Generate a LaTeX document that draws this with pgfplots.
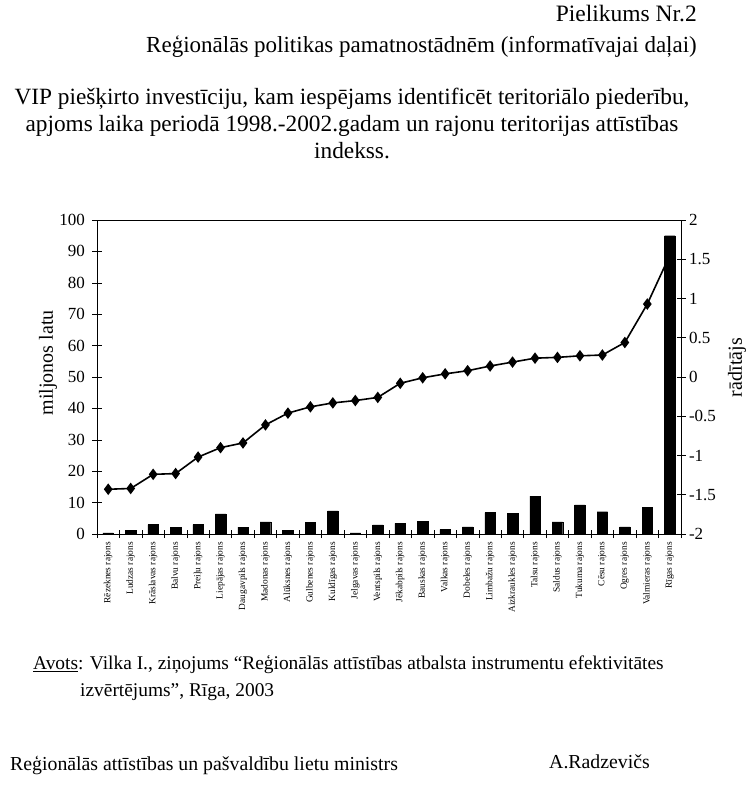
\documentclass[border=0pt]{standalone}
\usepackage{fontspec}
\setmainfont{Liberation Serif}
\usepackage{pgfplots}
\pgfplotsset{compat=1.18}
\begin{document}
\begin{tikzpicture}[x=1pt,y=1pt]
\path[use as bounding box] (0,0) rectangle (750,-793);
\node[anchor=mid east,inner sep=0pt,font=\fontsize{23.5}{26}\selectfont] at (697,-19) {Pielikums Nr.2};
\node[anchor=mid east,inner sep=0pt,font=\fontsize{23}{26}\selectfont] at (697,-50) {Reģionālās politikas pamatnostādnēm (informatīvajai daļai)};
\node[anchor=mid,inner sep=0pt,font=\fontsize{23.3}{26}\selectfont] at (352,-102) {VIP piešķirto investīciju, kam iespējams identificēt teritoriālo piederību,};
\node[anchor=mid,inner sep=0pt,font=\fontsize{23.3}{26}\selectfont] at (352,-129) {apjoms laika periodā 1998.-2002.gadam un rajonu teritorijas attīstības};
\node[anchor=mid,inner sep=0pt,font=\fontsize{23.3}{26}\selectfont] at (352,-156) {indekss.};
\node[anchor=mid west,inner sep=0pt,font=\fontsize{19.4}{22}\selectfont] at (33,-667) {\underline{Avots}: Vilka I., ziņojums “Reģionālās attīstības atbalsta instrumentu efektivitātes};
\node[anchor=mid west,inner sep=0pt,font=\fontsize{19.4}{22}\selectfont] at (80,-694) {izvērtējums”, Rīga, 2003};
\node[anchor=mid west,inner sep=0pt,font=\fontsize{19.8}{22}\selectfont] at (10,-768) {Reģionālās attīstības un pašvaldību lietu ministrs};
\node[anchor=mid west,inner sep=0pt,font=\fontsize{19.8}{22}\selectfont] at (549,-766) {A.Radzevičs};

% line (right axis)
\begin{axis}[
  at={(97pt,-534pt)}, anchor=south west, scale only axis,
  width=584pt, height=314pt,
  xmin=-0.5, xmax=25.5, ymin=-2, ymax=2,
  axis x line=none, axis y line*=right,
  ytick={-2,-1.5,...,2},
  tick align=center, major tick length=9pt,
  /pgf/number format/assume math mode=true,
  y tick label style={font=\fontsize{17}{19}\selectfont},
  yticklabel style={/pgf/number format/fixed},
  ylabel={rādītājs},
  ylabel style={font=\fontsize{20}{22}\selectfont, rotate=0, at={(axis description cs:1.096,0.53)}, anchor=center},
  axis line style={line width=0.8pt},
  every tick/.style={black, line width=0.6pt},
]
\addplot[black, line width=1.6pt, mark=diamond*, mark size=4.5pt, mark options={solid,fill=black}] coordinates {
(0,-1.43) (1,-1.42) (2,-1.24) (3,-1.23) (4,-1.02) (5,-0.90) (6,-0.84) (7,-0.61)
(8,-0.46) (9,-0.38) (10,-0.33) (11,-0.30) (12,-0.26) (13,-0.08) (14,-0.01) (15,0.04)
(16,0.08) (17,0.14) (18,0.19) (19,0.24) (20,0.25) (21,0.27) (22,0.28) (23,0.44)
(24,0.93) (25,1.55)
};
\end{axis}

% bars (left axis)
\begin{axis}[
  at={(97pt,-534pt)}, anchor=south west, scale only axis,
  width=584pt, height=314pt,
  xmin=-0.5, xmax=25.5, ymin=0, ymax=100,
  xtick={0,...,25},
  xticklabels={Rēzeknes rajons, Ludzas rajons, Krāslavas rajons, Balvu rajons, Preiļu rajons, Liepājas rajons, Daugavpils rajons, Madonas rajons, Alūksnes rajons, Gulbenes rajons, Kuldīgas rajons, Jelgavas rajons, Ventspils rajons, Jēkabpils rajons, Bauskas rajons, Valkas rajons, Dobeles rajons, Limbažu rajons, Aizkraukles rajons, Talsu rajons, Saldus rajons, Tukuma rajons, Cēsu rajons, Ogres rajons, Valmieras rajons, Rīgas rajons},
  x tick label style={rotate=90, anchor=east, font=\fontsize{9.4}{11}\selectfont},
  major x tick style={draw=none},
  minor xtick={-0.5,0.5,...,25.5},
  minor tick length=8pt,
  xtick pos=bottom, ytick pos=left,
  ytick={0,10,...,100},
  tick align=center, major tick length=9pt,
  /pgf/number format/assume math mode=true,
  y tick label style={font=\fontsize{17}{19}\selectfont, xshift=-4pt},
  ylabel={miljonos latu},
  ylabel style={font=\fontsize{20}{22}\selectfont, at={(axis description cs:-0.084,0.545)}, anchor=center},
  axis line style={line width=0.8pt},
  every tick/.style={black, line width=0.6pt},
]
\addplot[ybar, bar width=10.5pt, fill=black, draw=black] coordinates {
(0,0.4) (1,1.1) (2,3.0) (3,2.1) (4,3.0) (5,6.4) (6,2.2) (7,3.9)
(8,1.1) (9,3.7) (10,7.4) (11,0.4) (12,2.9) (13,3.4) (14,4.0) (15,1.4)
(16,2.3) (17,6.8) (18,6.5) (19,12.1) (20,3.9) (21,9.3) (22,7.1) (23,2.3)
(24,8.5) (25,95.0)
};
\end{axis}
\end{tikzpicture}
\end{document}
